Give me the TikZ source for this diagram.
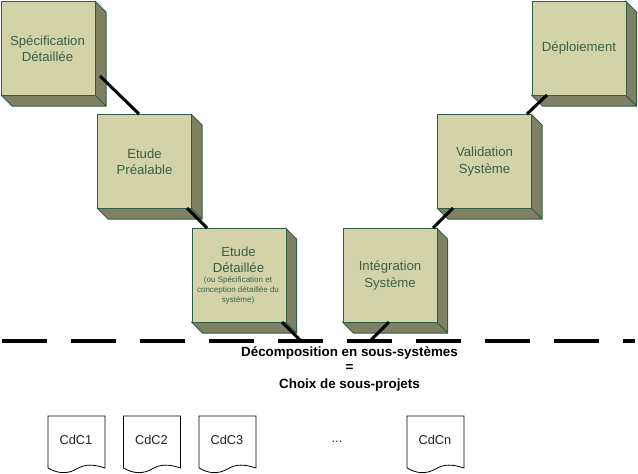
\documentclass[tikz,border=0pt]{standalone}
\usepackage{fontspec}
\setmainfont{Liberation Sans}
\definecolor{frontc}{HTML}{D3D3A9}
\definecolor{sidec}{HTML}{7F7F63}
\definecolor{edgec}{HTML}{2F5F45}
\definecolor{textc}{HTML}{3A5F48}
\definecolor{doctext}{HTML}{222222}
\tikzset{
  x=1pt,y=-1pt,
  frontbox/.style={draw=edgec,line width=1pt,fill=frontc,text=textc,minimum width=94pt,minimum height=94pt,inner sep=0pt,align=center,font=\fontsize{13.2}{16.3}\selectfont,anchor=north west},
  sideface/.style={draw=edgec,line width=1pt,fill=sidec,line join=round},
  link/.style={draw=black,line width=3pt},
  dashline/.style={draw=black,line width=3.2pt,dash pattern=on 45pt off 24pt},
  docshape/.style={draw=black,line width=0.8pt,fill=white},
  doclabel/.style={text=doctext,font=\fontsize{12.8}{15}\selectfont,inner sep=0pt},
  boldlabel/.style={text=black,font=\bfseries\fontsize{13.4}{16}\selectfont,inner sep=0pt},
  titlelabel/.style={text=textc,inner sep=0pt,align=center,font=\fontsize{13.2}{16.3}\selectfont},
  sublabel/.style={text=textc,inner sep=0pt,align=center,font=\fontsize{8}{10}\selectfont}
}
\newcommand{\solidbox}[4]{%
  \path[sideface] (#2+94,#3) -- ++(11,11) -- ++(0,94) -- ++(-11,-11) -- cycle;
  \path[sideface] (#2,#3+94) -- ++(94,0) -- ++(11,11) -- ++(-94,0) -- cycle;
  \node[frontbox] (#1) at (#2,#3) {#4};
}
\newcommand{\docbox}[3]{%
  \path[docshape] (#2,416) -- (#2+57,416) -- (#2+57,468)
    .. controls (#2+45,464) and (#2+37,464) .. (#2+28.5,469)
    .. controls (#2+20,474) and (#2+10,474) .. (#2,468) -- cycle;
  \node[doclabel] (#1) at (#2+28,439.5) {#3};
}
\begin{document}
\begin{tikzpicture}
\useasboundingbox (0,0) rectangle (638,474);
\fill[white] (0,0) rectangle (638,474);
\solidbox{spec}{1}{1}{\hspace*{-2pt}Spécification\\\hspace*{-2pt}Détaillée}
\solidbox{prea}{97}{114}{Etude\\Préalable}
\solidbox{deta}{191.5}{228}{}
\solidbox{inte}{342.5}{228}{Intégration\\Système}
\solidbox{vali}{437}{114}{Validation\\Système}
\solidbox{depl}{531.5}{1}{Déploiement}
\node[titlelabel] (detatitle) at (238.5,259.5) {Etude\\Détaillée};
\node[sublabel] (detasub) at (238,290) {(ou Spécification et\\conception détaillée du\\système)};
\coordinate (dashstart) at (2,341);
\coordinate (dashend) at (635,341);
\draw[dashline] (dashstart) -- (dashend);
\coordinate (specout) at (100,76);
\coordinate (preain) at (139,114);
\coordinate (preaout) at (187,208);
\coordinate (detain) at (207,228);
\coordinate (detaout) at (282,322);
\coordinate (dashl) at (301,341);
\coordinate (inteout) at (389,322);
\coordinate (dashr) at (370,341);
\coordinate (intein) at (433,228);
\coordinate (valiout) at (453,208);
\coordinate (valiin) at (527,114);
\coordinate (deplout) at (547,95);
\draw[link] (specout) -- (preain);
\draw[link] (preaout) -- (detain);
\draw[link] (detaout) -- (dashl);
\draw[link] (inteout) -- (dashr);
\draw[link] (intein) -- (valiout);
\draw[link] (valiin) -- (deplout);
\node[boldlabel] (decomp) at (349.5,352.7) {Décomposition en sous-systèmes};
\node[boldlabel] (egal) at (349.5,368.5) {=};
\node[boldlabel] (choix) at (349.5,385.5) {Choix de sous-projets};
\docbox{cdc1}{48}{CdC1}
\docbox{cdc2}{123.5}{CdC2}
\docbox{cdc3}{199}{CdC3}
\docbox{cdcn}{407}{CdCn}
\node[doclabel] (dots) at (337,442) {...};
\end{tikzpicture}
\end{document}
